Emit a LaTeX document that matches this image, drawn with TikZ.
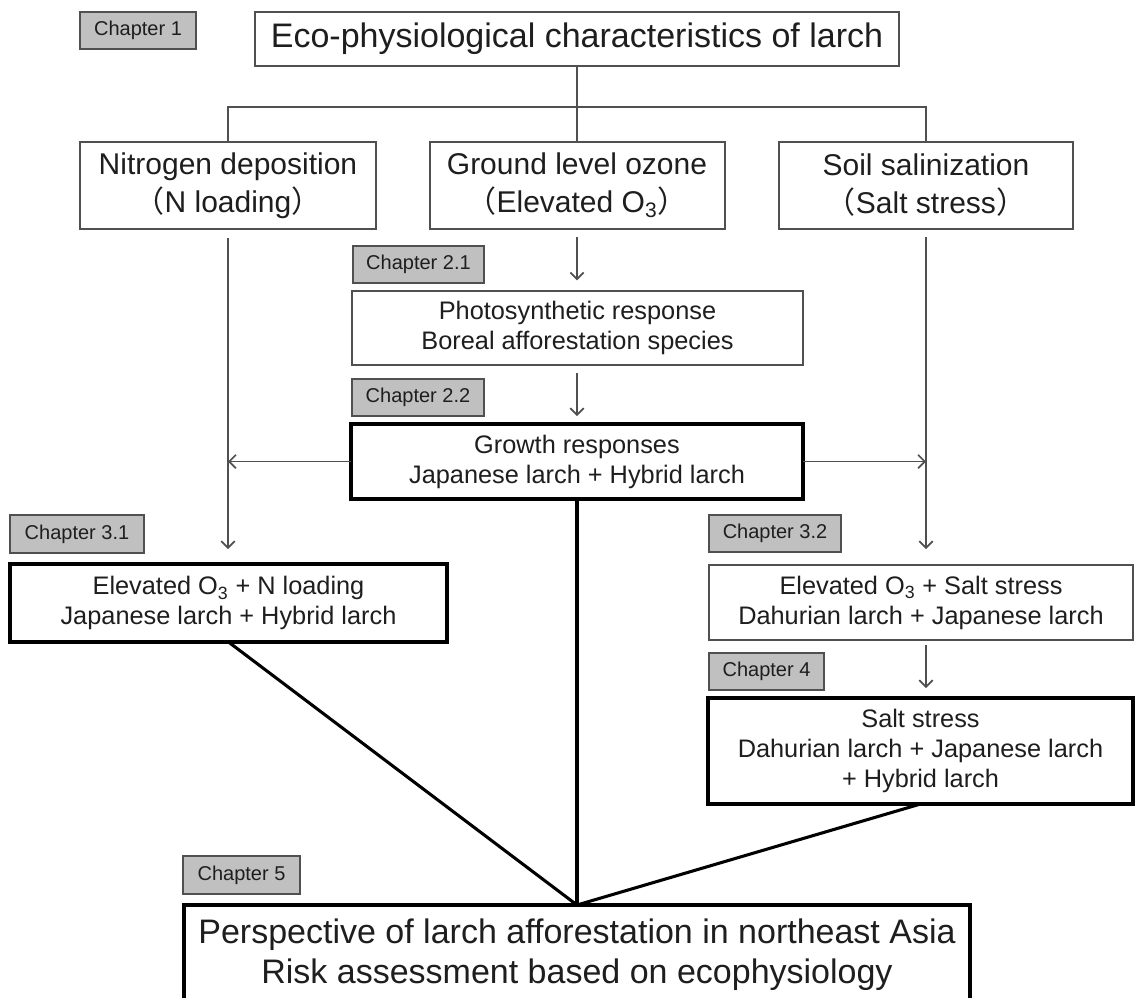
\documentclass[tikz,border=0pt]{standalone}
\usepackage{fontspec}
\setmainfont{Liberation Sans}
\newfontfamily\cjk{Noto Sans CJK JP}
\usetikzlibrary{arrows.meta}
\definecolor{txt}{HTML}{1E1E1E}
\definecolor{thinc}{HTML}{505050}
\definecolor{chapfill}{HTML}{C0C0C0}
\newcommand\lpar{{\cjk （}}
\newcommand\rpar{{\cjk ）}}
\begin{document}
\begin{tikzpicture}[x=0.75pt,y=-0.75pt,
  box/.style={draw=thinc, line width=1.5pt, fill=white, inner sep=0pt, outer sep=0pt, align=center, text=txt},
  thickbox/.style={box, draw=black, line width=2.6pt},
  chap/.style={draw=thinc, fill=chapfill, line width=1.5pt, inner sep=0pt, outer sep=0pt, text=txt, font=\fontsize{15}{18}\selectfont},
  sz/.style 2 args={minimum width=#1*0.75pt, minimum height=#2*0.75pt},
  bigfont/.style={font=\fontsize{25.5}{30}\selectfont},
  lvlfont/.style={font=\fontsize{22.5}{28.5}\selectfont},
  midfont/.style={font=\fontsize{19}{22.5}\selectfont},
  conn/.style={draw=thinc, line width=1.3pt},
  arr/.style={conn, -{Straight Barb[length=5pt,width=10pt,line width=1.3pt]}},
  heavy/.style={draw=black, line width=2.3pt}
]
\useasboundingbox (0,0) rectangle (1136,997);
\clip (0,0) rectangle (1136,997);
\fill[white] (0,0) rectangle (1136,997);

% chapter labels
\node[chap, sz={116}{37}] (ch1) at (138,30.5) {Chapter 1};
\node[chap, sz={131}{37}] (ch21) at (418.5,264.5) {Chapter 2.1};
\node[chap, sz={132}{37}] (ch22) at (418,397.5) {Chapter 2.2};
\node[chap, sz={134}{38}] (ch31) at (77,534) {Chapter 3.1};
\node[chap, sz={132}{37}] (ch32) at (775,533.5) {Chapter 3.2};
\node[chap, sz={115}{37}] (ch4) at (766.5,671.5) {Chapter 4};
\node[chap, sz={117}{38}] (ch5) at (241.5,875) {Chapter 5};

% main boxes
\node[box, bigfont, sz={644}{54}] (top) at (577,39) {Eco-physiological characteristics of larch};
\node[box, lvlfont, sz={296}{87}] (nit) at (228,185.5) {Nitrogen deposition\\\lpar N loading\rpar};
\node[box, lvlfont, sz={295}{87}] (ozo) at (577,185.5) {Ground level ozone\\\lpar Elevated O\textsubscript{3}\rpar};
\node[box, lvlfont, sz={294}{87}] (soil) at (926,185.5) {Soil salinization\\\lpar Salt stress\rpar};
\node[box, midfont, sz={451}{74}] (photo) at (577.5,328) {Photosynthetic response\\Boreal afforestation species};
\node[thickbox, midfont, sz={452}{75}] (growth) at (577,461.5) {Growth responses\\Japanese larch + Hybrid larch};
\node[thickbox, midfont, sz={437}{78}] (en) at (228.5,603) {Elevated O\textsubscript{3} + N loading\\Japanese larch + Hybrid larch};
\node[box, midfont, sz={424}{75}] (es) at (921,602.5) {Elevated O\textsubscript{3} + Salt stress\\Dahurian larch + Japanese larch};
\node[thickbox, midfont, sz={425}{106}] (salt) at (920.5,751) {Salt stress\\Dahurian larch + Japanese larch\\+ Hybrid larch};
\node[thickbox, bigfont, sz={786}{100}] (final) at (577,955) {Perspective of larch afforestation in northeast Asia\\Risk assessment based on ecophysiology};

% top tree
\coordinate (split) at (577,107);
\draw[conn] (top.south) -- (ozo.north);
\draw[conn] (nit.north) |- (split) -| (soil.north);

% arrows
\draw[arr, shorten <=6.75pt, shorten >=11.25pt] (nit.south) -- (nit.south |- en.north);
\draw[arr, shorten <=6pt, shorten >=12pt] (soil.south) -- (soil.south |- es.north);
\draw[arr, shorten <=6pt, shorten >=8pt] (ozo.south) -- (ozo.south |- photo.north);
\draw[arr, shorten <=6pt, shorten >=6pt] (photo.south -| growth.north) -- (growth.north);
\draw[arr, shorten <=3.75pt, shorten >=7.5pt] (es.south -| soil.south) -- (salt.north -| soil.south);
\draw[arr] (growth.west) -- (growth.west -| nit.south);
\draw[arr] (growth.east) -- (growth.east -| soil.south);

% heavy connectors
\draw[heavy] (en.south) -- (final.north);
\draw[heavy] (growth.south) -- (final.north);
\draw[heavy] (salt.south) -- (final.north);
\end{tikzpicture}
\end{document}
